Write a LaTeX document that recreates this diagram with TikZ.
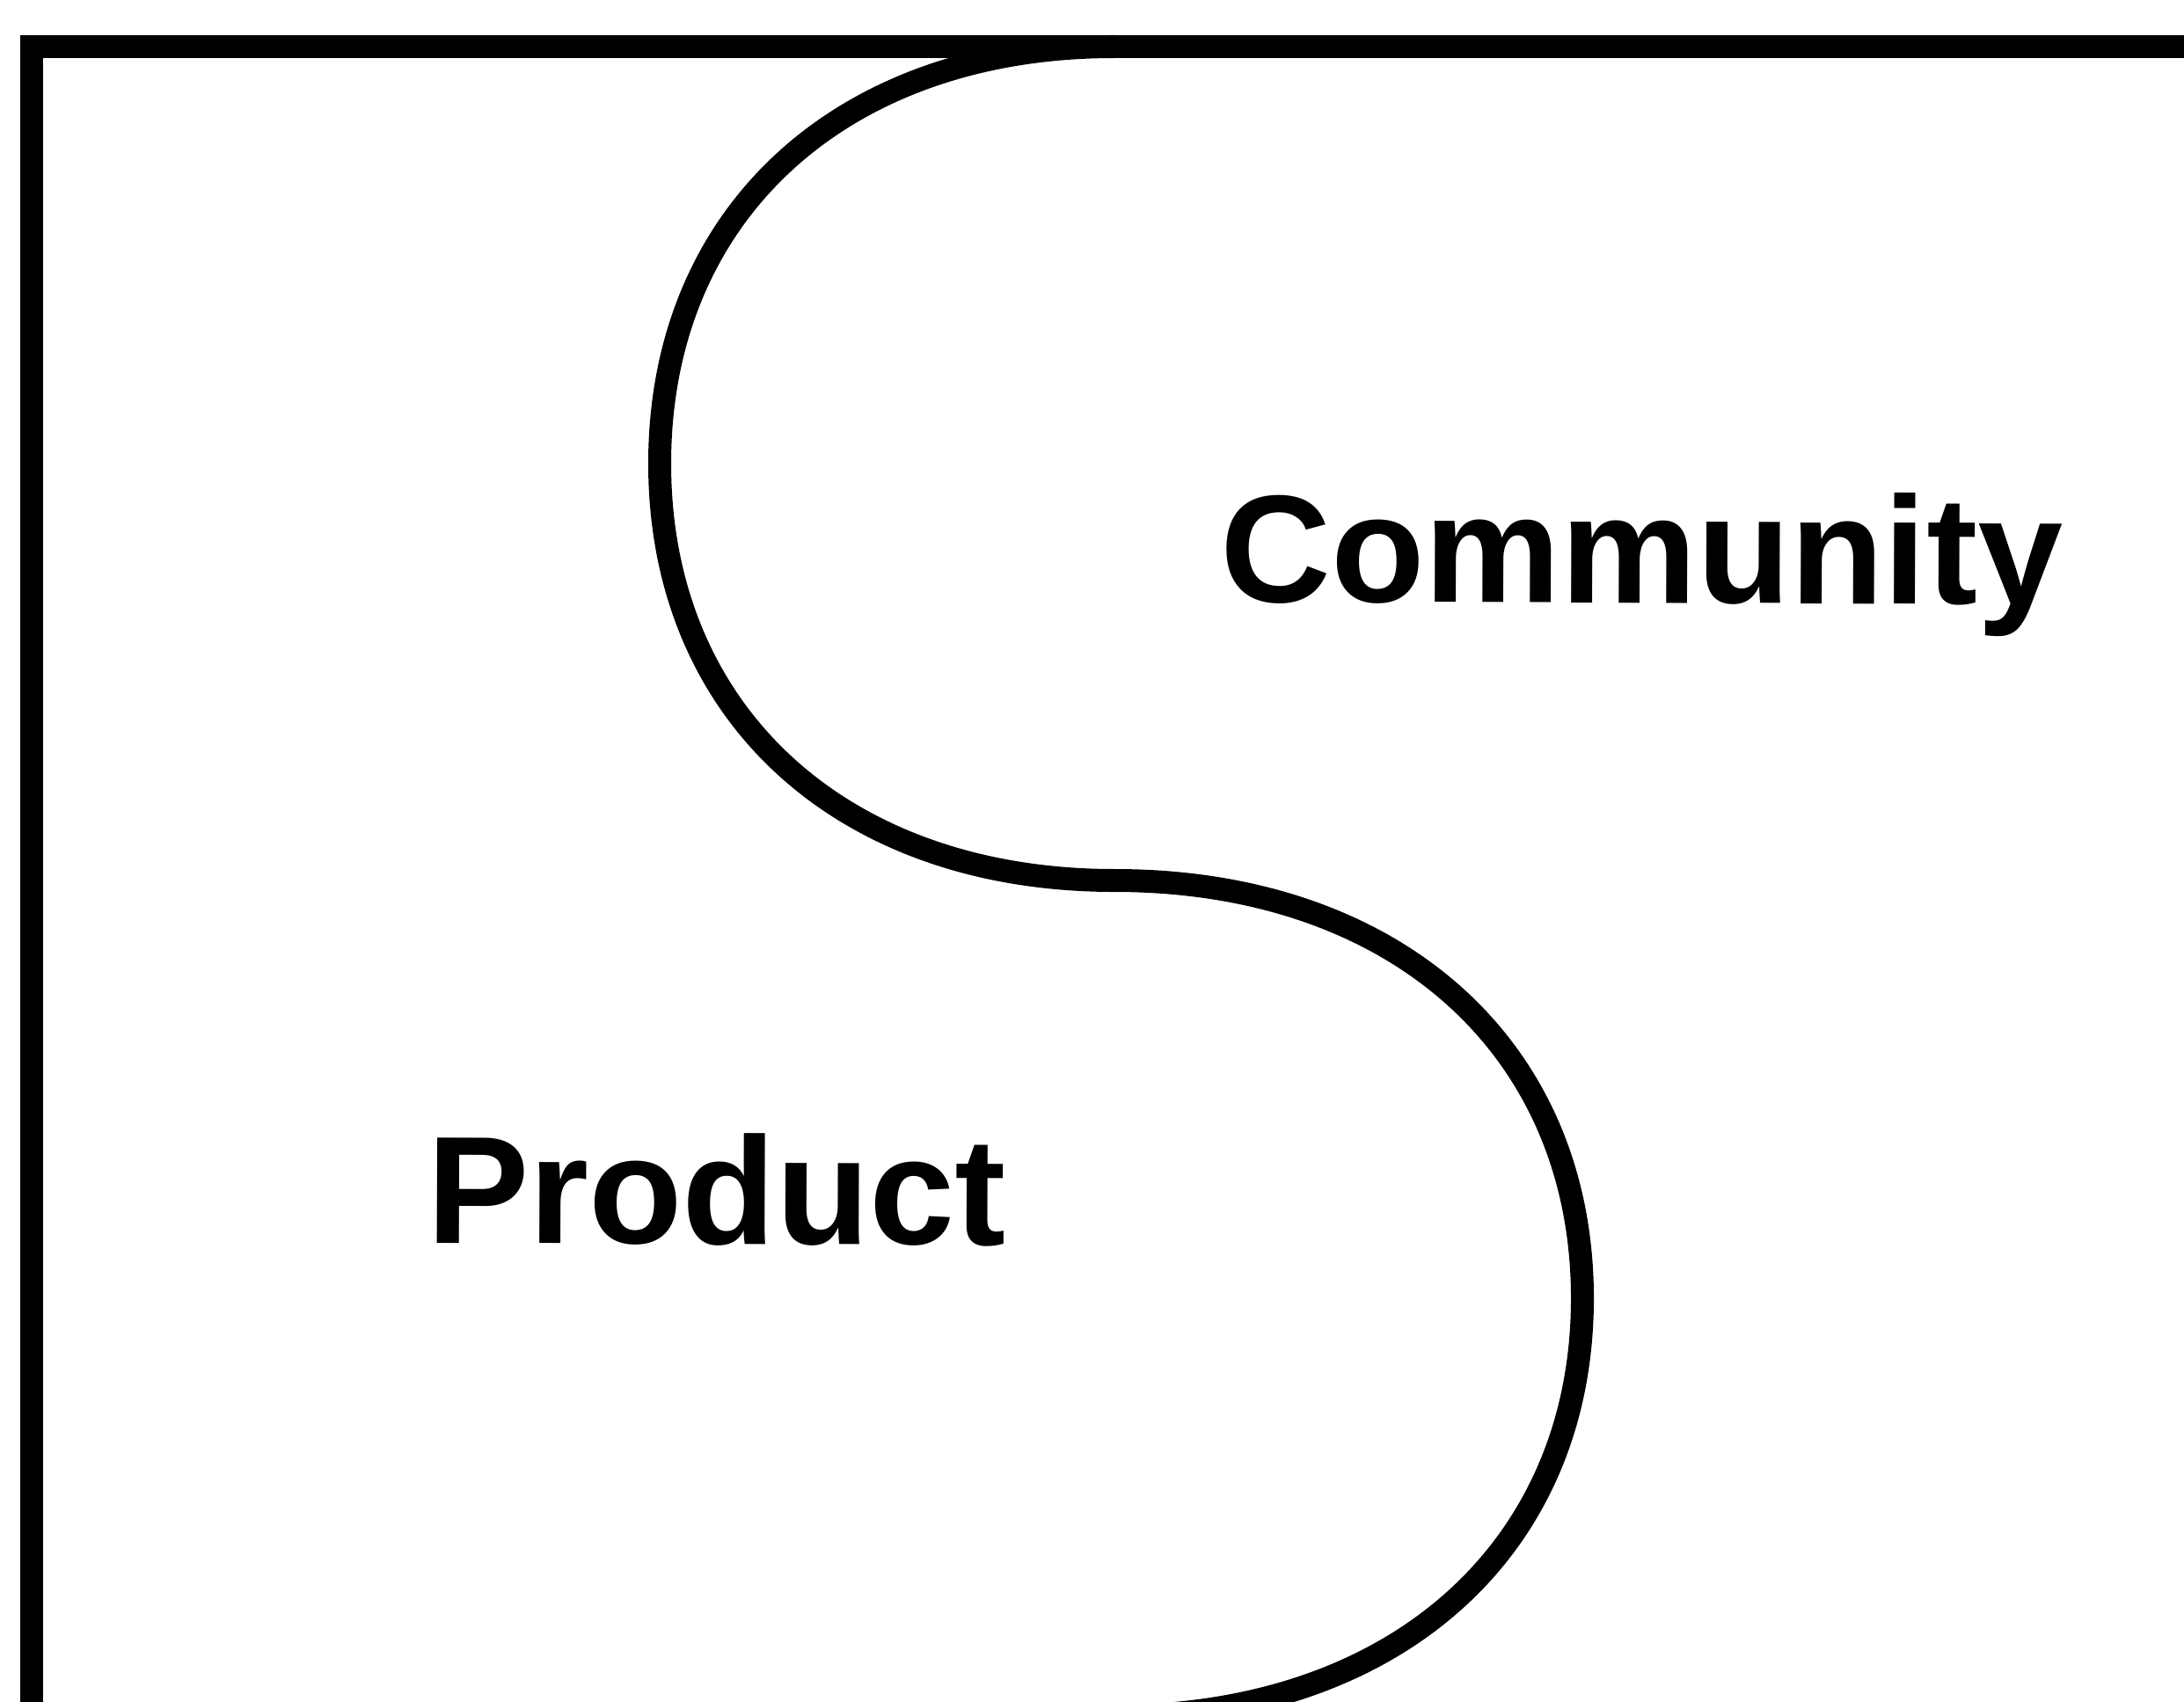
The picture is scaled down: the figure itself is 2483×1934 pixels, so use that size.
\documentclass[tikz,border=0pt]{standalone}
\usepackage{fontspec}
\setmainfont{Liberation Sans}
\begin{document}
\begin{tikzpicture}[x=0.01cm,y=-0.01cm,
  rule/.style={line width=0.26cm,draw=black,line join=miter},
  label/.style={inner sep=0pt,anchor=base west,rotate=-0.2,
    font=\fontsize{49.5}{59}\selectfont\bfseries}]
\useasboundingbox (0,0) rectangle (2483,1934);
\clip (0,0) rectangle (2483,1934);
\fill[white] (0,0) rectangle (2483,1934);
% frame: left and top rules
\draw[rule] (36,1960) -- (36,53) -- (2520,53);
% S-shaped divider
\draw[rule] (1267,53)
  .. controls (957,53) and (750,243) .. (750,527)
  .. controls (750,811) and (957,1001) .. (1267,1001)
  .. controls (1586,1001) and (1799,1191) .. (1799,1476)
  .. controls (1799,1761) and (1586,1951) .. (1267,1951);
% labels
\node[label] (community) at (1387,684) {Community};
\node[label] (product) at (485,1413) {Product};
\end{tikzpicture}
\end{document}
